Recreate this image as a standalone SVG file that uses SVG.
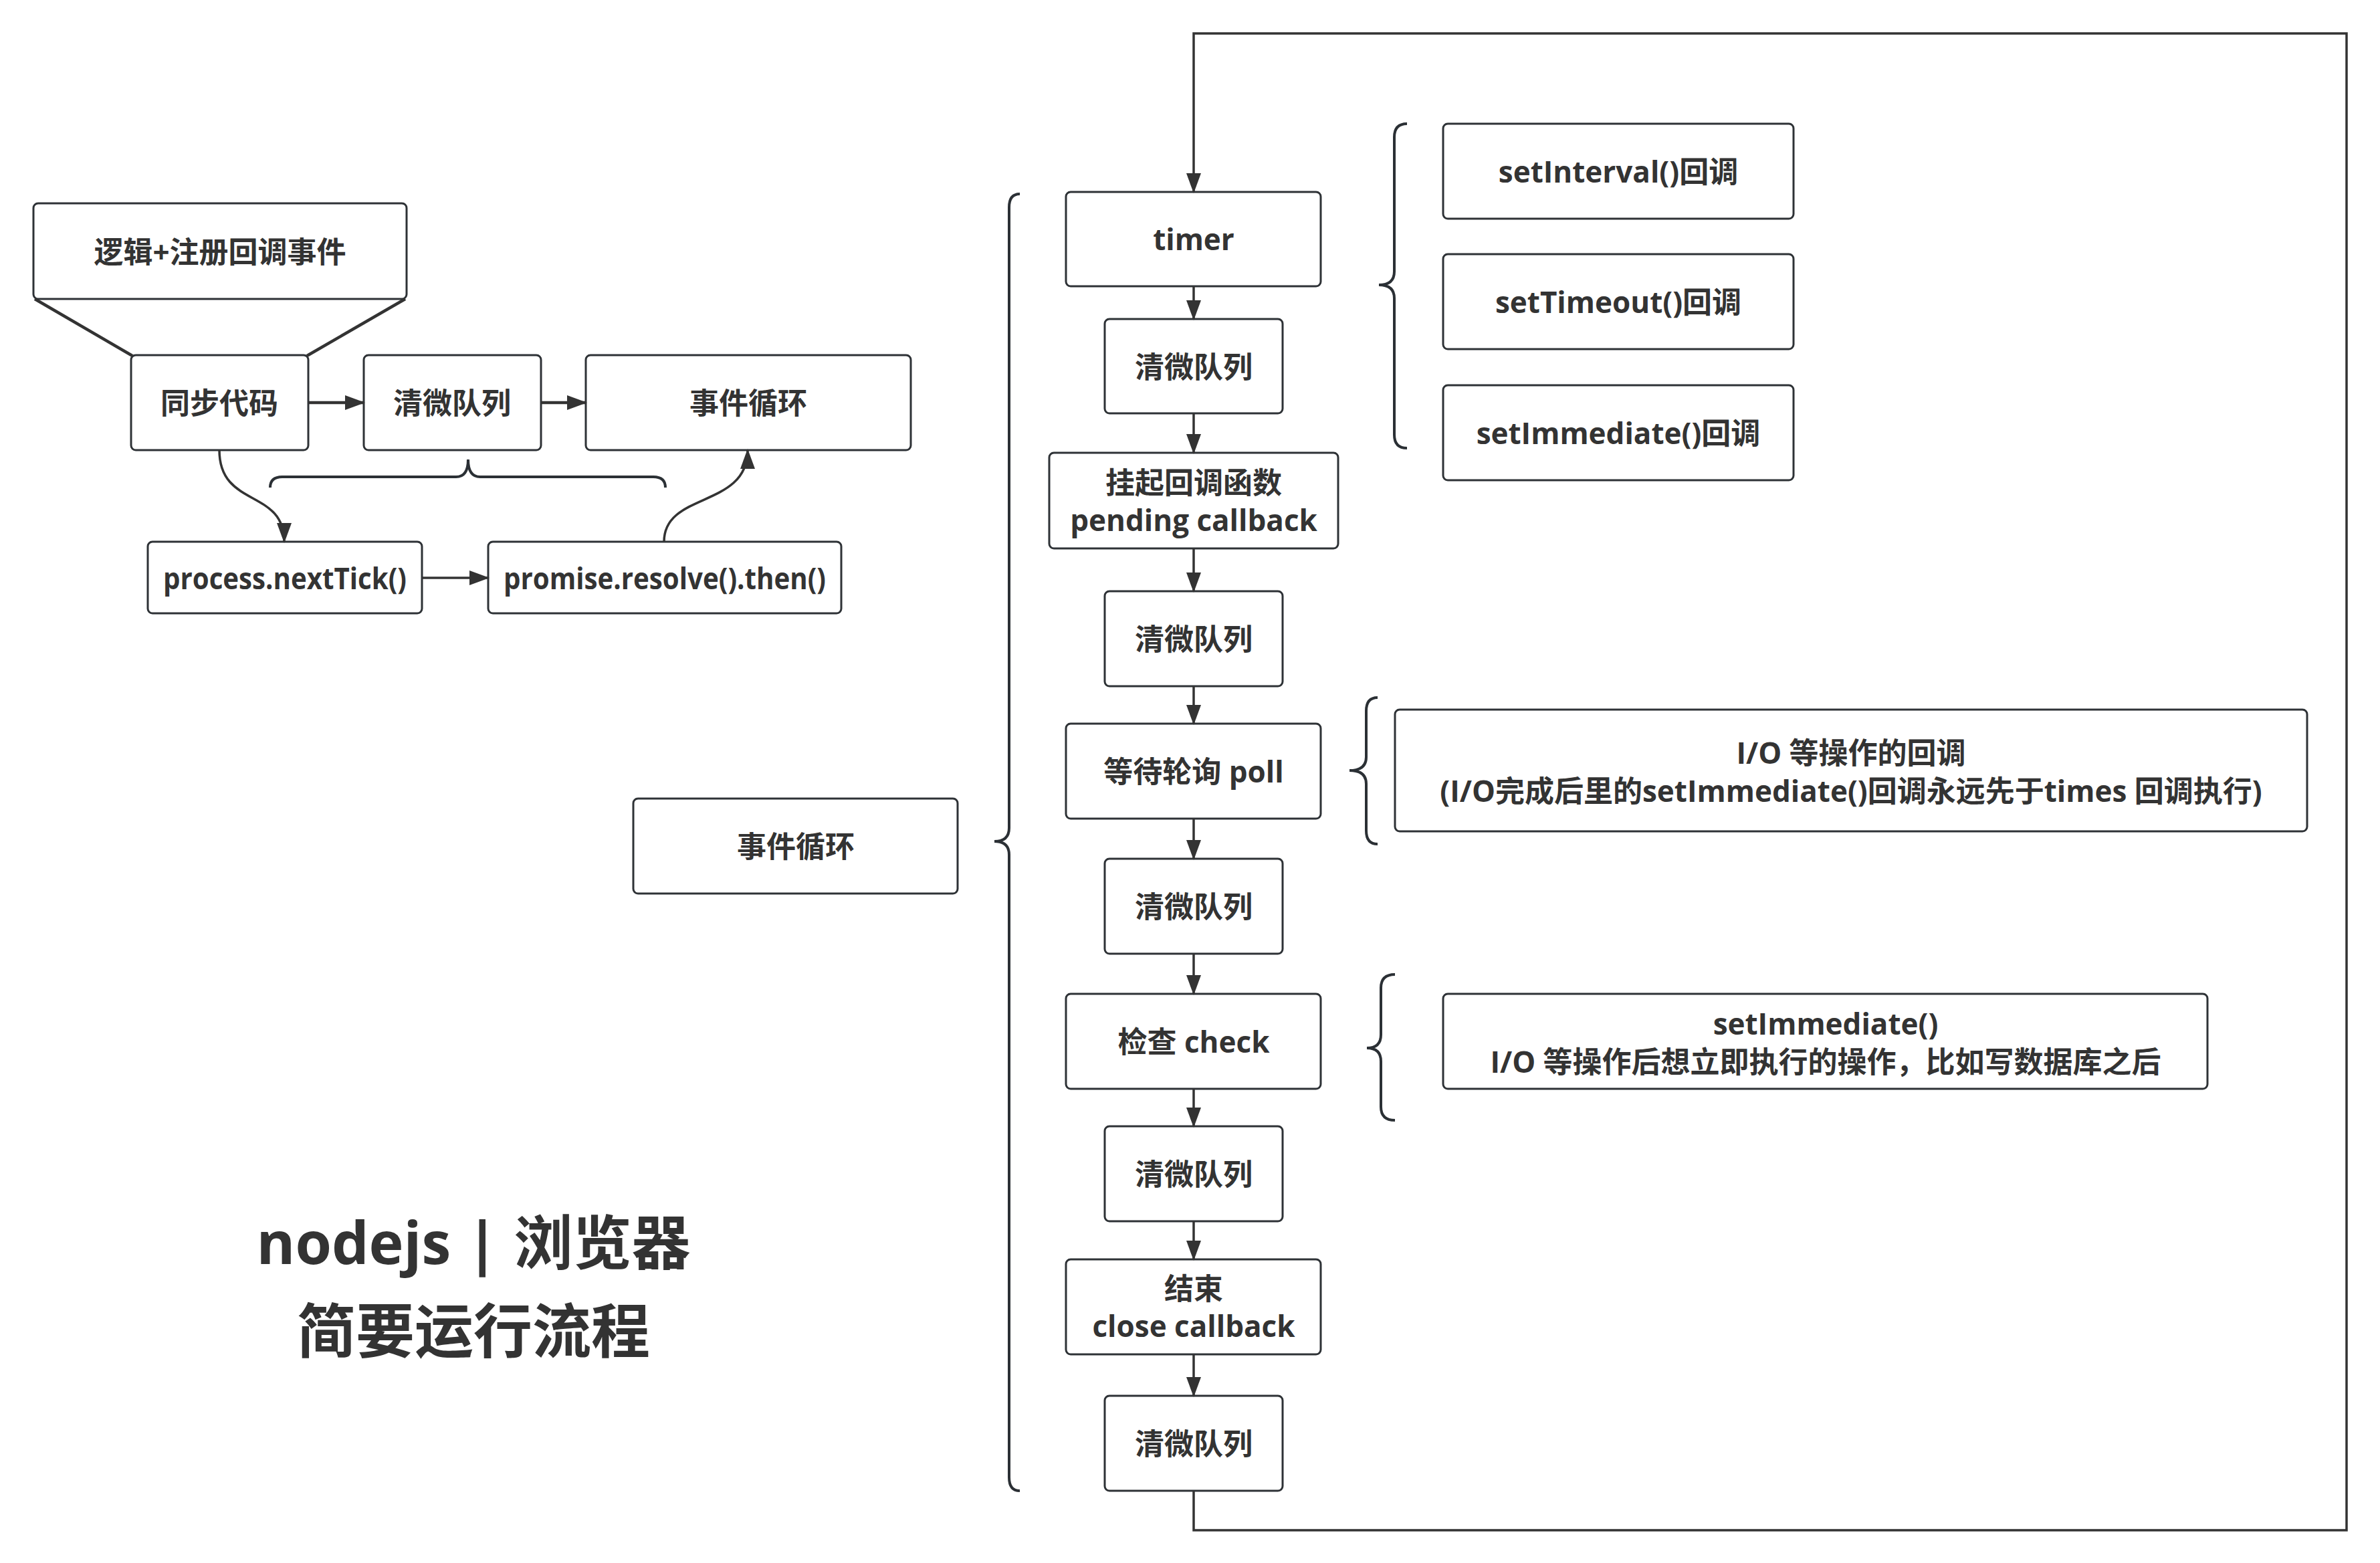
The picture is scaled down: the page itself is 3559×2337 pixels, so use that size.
<svg xmlns="http://www.w3.org/2000/svg" width="3559" height="2337" viewBox="0 0 3559 2337">
<defs>
<style>
.box{fill:#fff;stroke:#2e3236;stroke-width:3}
.t{font-family:'Open Sans','Noto Sans CJK SC',sans-serif;font-weight:700;font-size:44px;fill:#333;text-anchor:middle;dominant-baseline:central}
.title{font-family:'Open Sans','Noto Sans CJK SC',sans-serif;font-weight:700;font-size:88px;fill:#333;text-anchor:middle;dominant-baseline:central}
.c{fill:none;stroke:#333;stroke-width:3.5}
.ct{fill:none;stroke:#333;stroke-width:4.5}
.br{fill:none;stroke:#2b3035;stroke-width:4}
</style>
<marker id="ah" markerUnits="userSpaceOnUse" markerWidth="30" markerHeight="22" refX="28" refY="11" orient="auto"><path d="M0,0 L30,11 L0,22 Z" fill="#333"/></marker>
</defs>
<rect width="3559" height="2337" fill="#fff"/>

<!-- left section -->
<g id="n-logic"><rect class="box" x="50" y="304" width="558" height="143" rx="7"/><text class="t" x="329" y="376">逻辑+注册回调事件</text></g>
<g id="n-sync"><rect class="box" x="196" y="531" width="265" height="142" rx="7"/><text class="t" x="328" y="602">同步代码</text></g>
<g id="n-clear"><rect class="box" x="544" y="531" width="265" height="142" rx="7"/><text class="t" x="676" y="602">清微队列</text></g>
<g id="n-loop"><rect class="box" x="876" y="531" width="486" height="142" rx="7"/><text class="t" x="1119" y="602">事件循环</text></g>
<g id="n-nexttick"><rect class="box" x="221" y="810" width="410" height="107" rx="7"/><text class="t" x="426" y="864" textLength="364" lengthAdjust="spacingAndGlyphs">process.nextTick()</text></g>
<g id="n-promise"><rect class="box" x="730" y="810" width="528" height="107" rx="7"/><text class="t" x="994" y="864" textLength="482" lengthAdjust="spacingAndGlyphs">promise.resolve().then()</text></g>

<!-- middle -->
<g id="n-eventloop"><rect class="box" x="947" y="1194" width="485" height="142" rx="7"/><text class="t" x="1190" y="1265">事件循环</text></g>
<g id="title"><text class="title" x="708" y="1856">nodejs | 浏览器</text><text class="title" x="708" y="1988">简要运行流程</text></g>

<!-- right column -->
<g id="n-timer"><rect class="box" x="1594" y="287" width="381" height="141" rx="7"/><text class="t" x="1785" y="357">timer</text></g>
<g id="n-q1"><rect class="box" x="1652" y="477" width="266" height="141" rx="7"/><text class="t" x="1785" y="548">清微队列</text></g>
<g id="n-pending"><rect class="box" x="1569" y="677" width="432" height="143" rx="7"/><text class="t" x="1785" y="721">挂起回调函数</text><text class="t" x="1785" y="777">pending callback</text></g>
<g id="n-q2"><rect class="box" x="1652" y="884" width="266" height="142" rx="7"/><text class="t" x="1785" y="955">清微队列</text></g>
<g id="n-poll"><rect class="box" x="1594" y="1082" width="381" height="142" rx="7"/><text class="t" x="1785" y="1153">等待轮询 poll</text></g>
<g id="n-q3"><rect class="box" x="1652" y="1284" width="266" height="142" rx="7"/><text class="t" x="1785" y="1355">清微队列</text></g>
<g id="n-check"><rect class="box" x="1594" y="1486" width="381" height="142" rx="7"/><text class="t" x="1785" y="1557">检查 check</text></g>
<g id="n-q4"><rect class="box" x="1652" y="1684" width="266" height="142" rx="7"/><text class="t" x="1785" y="1755">清微队列</text></g>
<g id="n-close"><rect class="box" x="1594" y="1883" width="381" height="142" rx="7"/><text class="t" x="1785" y="1926">结束</text><text class="t" x="1785" y="1982">close callback</text></g>
<g id="n-q5"><rect class="box" x="1652" y="2087" width="266" height="142" rx="7"/><text class="t" x="1785" y="2158">清微队列</text></g>

<!-- notes -->
<g id="n-setinterval"><rect class="box" x="2158" y="185" width="524" height="142" rx="7"/><text class="t" x="2420" y="256">setInterval()回调</text></g>
<g id="n-settimeout"><rect class="box" x="2158" y="380" width="524" height="142" rx="7"/><text class="t" x="2420" y="451">setTimeout()回调</text></g>
<g id="n-setimmediate"><rect class="box" x="2158" y="576" width="524" height="142" rx="7"/><text class="t" x="2420" y="647">setImmediate()回调</text></g>
<g id="n-io"><rect class="box" x="2086" y="1061" width="1364" height="182" rx="7"/><text class="t" x="2768" y="1125">I/O 等操作的回调</text><text class="t" x="2768" y="1182">(I/O完成后里的setImmediate()回调永远先于times 回调执行)</text></g>
<g id="n-checknote"><rect class="box" x="2158" y="1486" width="1143" height="142" rx="7"/><text class="t" x="2730" y="1530">setImmediate()</text><text class="t" x="2730" y="1587">I/O 等操作后想立即执行的操作，比如写数据库之后</text></g>

<!-- braces -->
<g id="braces">
<path class="br" d="M404 729 Q404 713 422 713 L682 713 Q700 713 700 687 Q700 713 718 713 L977 713 Q995 713 995 729"/>
<path class="br" d="M1525 290 Q1509 290 1509 310 L1509 1238 Q1509 1258 1487 1258 Q1509 1258 1509 1278 L1509 2209 Q1509 2229 1525 2229"/>
<path class="br" d="M2104 185 Q2085 185 2085 205 L2085 406 Q2085 426 2062 426 Q2085 426 2085 446 L2085 650 Q2085 670 2104 670"/>
<path class="br" d="M2060 1043 Q2043 1043 2043 1063 L2043 1132 Q2043 1152 2018 1152 Q2043 1152 2043 1172 L2043 1242 Q2043 1262 2060 1262"/>
<path class="br" d="M2086 1457 Q2065 1457 2065 1477 L2065 1547 Q2065 1567 2044 1567 Q2065 1567 2065 1587 L2065 1655 Q2065 1675 2086 1675"/>
</g>

<!-- connectors -->
<g id="connectors">
<line class="ct" x1="52" y1="447" x2="198" y2="532"/>
<line class="ct" x1="606" y1="447" x2="459" y2="532"/>
<line class="ct" x1="461" y1="602" x2="544" y2="602" marker-end="url(#ah)"/>
<line class="ct" x1="809" y1="602" x2="876" y2="602" marker-end="url(#ah)"/>
<line class="c" x1="631" y1="864" x2="730" y2="864" marker-end="url(#ah)"/>
<path class="c" d="M328 673 C328 760 425 730 425 810" marker-end="url(#ah)"/>
<path class="c" d="M993 810 C993 735 1118 760 1118 673" marker-end="url(#ah)"/>

<line class="c" x1="1785" y1="428" x2="1785" y2="477" marker-end="url(#ah)"/>
<line class="c" x1="1785" y1="618" x2="1785" y2="677" marker-end="url(#ah)"/>
<line class="c" x1="1785" y1="820" x2="1785" y2="884" marker-end="url(#ah)"/>
<line class="c" x1="1785" y1="1026" x2="1785" y2="1082" marker-end="url(#ah)"/>
<line class="c" x1="1785" y1="1224" x2="1785" y2="1284" marker-end="url(#ah)"/>
<line class="c" x1="1785" y1="1426" x2="1785" y2="1486" marker-end="url(#ah)"/>
<line class="c" x1="1785" y1="1628" x2="1785" y2="1684" marker-end="url(#ah)"/>
<line class="c" x1="1785" y1="1826" x2="1785" y2="1883" marker-end="url(#ah)"/>
<line class="c" x1="1785" y1="2025" x2="1785" y2="2087" marker-end="url(#ah)"/>
<path class="c" d="M1785 2229 L1785 2288 L3509 2288 L3509 50 L1785 50 L1785 287" marker-end="url(#ah)"/>
</g>
</svg>
